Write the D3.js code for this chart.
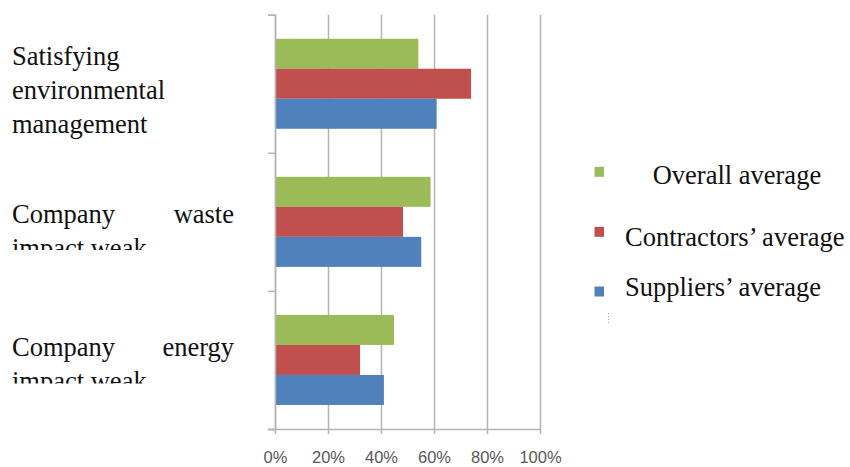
<!DOCTYPE html>
<html>
<head>
<meta charset="utf-8">
<script src="https://cdn.jsdelivr.net/npm/d3@7"></script>
<style>
  body { margin: 0; background: #fff; }
  svg { display: block; }
</style>
</head>
<body>
<div id="wrapper"></div>
<script>
// data
const categories = ["Satisfying environmental management", "Company waste impact weak", "Company energy impact weak"]
const labelLines = [
    [["Satisfying"], ["environmental"], ["management"]],
    [["Company", "waste"], ["impact weak"]],
    [["Company", "energy"], ["impact weak"]]
]
const seriesNames = ["Overall average", "Contractors\u2019 average", "Suppliers\u2019 average"]
const overall = [0.541, 0.587, 0.449]
const contractors = [0.740, 0.483, 0.321]
const suppliers = [0.610, 0.552, 0.411]
const xTicks = [0, 0.2, 0.4, 0.6, 0.8, 1]

const seriesValues = [overall, contractors, suppliers]
const colors = ["#9bbb59", "#c0504d", "#4f81bd"]

const dimensions = {
    width: 850,
    height: 467,
    plot: { left: 275, right: 540, top: 14.7, bottom: 429 }
}

const svg = d3.select('#wrapper')
    .append('svg')
    .attr('width', dimensions.width)
    .attr('height', dimensions.height)

const xScale = d3.scaleLinear()
    .domain([0, 1])
    .range([dimensions.plot.left, dimensions.plot.right])

const yScale = d3.scaleBand()
    .domain(categories)
    .range([dimensions.plot.top, dimensions.plot.bottom])
    .paddingInner(0.348)
    .paddingOuter(0.174)

const ySub = d3.scaleBand()
    .domain(seriesNames)
    .range([0, yScale.bandwidth()])

const gridColor = "#b4b4b4"

// vertical gridlines
const grid = svg.append('g')
    .attr('transform', `translate(0, ${dimensions.plot.bottom})`)
    .call(d3.axisBottom(xScale)
        .tickValues(xTicks)
        .tickSize(-(dimensions.plot.bottom - dimensions.plot.top))
        .tickFormat(""))
grid.select('.domain').remove()
grid.selectAll('line').attr('stroke', gridColor).attr('stroke-width', 1.5)

// bars
const table = categories.flatMap((c, i) => seriesNames.map((s, j) => ({ c, s, j, v: seriesValues[j][i] })))
svg.append('g')
    .selectAll('rect')
    .data(table)
    .join('rect')
    .attr('x', xScale(0))
    .attr('y', d => yScale(d.c) + ySub(d.s))
    .attr('width', d => xScale(d.v) - xScale(0))
    .attr('height', ySub.bandwidth())
    .attr('fill', d => colors[d.j])

// x axis
const xAxis = svg.append('g')
    .attr('transform', `translate(0, ${dimensions.plot.bottom})`)
    .call(d3.axisBottom(xScale)
        .tickValues(xTicks)
        .tickSize(5)
        .tickFormat(d3.format(".0%")))
xAxis.select('.domain').attr('stroke', gridColor).attr('stroke-width', 1.5)
    .attr('d', `M${dimensions.plot.left - 7},0.5H${dimensions.plot.right}`)
xAxis.selectAll('line').attr('stroke', gridColor).attr('stroke-width', 1.5)
xAxis.selectAll('text')
    .attr('y', 34)
    .attr('dy', null)
    .attr('fill', '#595959')
    .style('font-family', '"Liberation Sans", Arial, sans-serif')
    .style('font-size', '16.5px')

// y axis with ticks between categories
const yEdges = d3.scaleLinear().domain([0, categories.length])
    .range([dimensions.plot.top, dimensions.plot.bottom])
const yAxis = svg.append('g')
    .attr('transform', `translate(${dimensions.plot.left}, 0)`)
    .call(d3.axisLeft(yEdges).ticks(categories.length).tickSize(7).tickFormat(""))
yAxis.select('.domain').attr('stroke', gridColor).attr('stroke-width', 1.5)
yAxis.selectAll('line').attr('stroke', gridColor).attr('stroke-width', 1.5)

// category labels, justified like the source document
const labelFont = '"Liberation Serif", "Times New Roman", serif'
const labelLeft = 12, labelRight = 234, lineGap = 34
const firstBaselines = [65, 222.7, 356]
const clipBottoms = [null, 250, 383.5]

labelLines.forEach((lines, i) => {
    const g = svg.append('g')
    if (clipBottoms[i] !== null) {
        svg.append('clipPath').attr('id', `clip${i}`)
            .append('rect')
            .attr('x', 0).attr('y', firstBaselines[i] - 40)
            .attr('width', 260).attr('height', clipBottoms[i] - firstBaselines[i] + 40)
        g.attr('clip-path', `url(#clip${i})`)
    }
    lines.forEach((words, k) => {
        const y = firstBaselines[i] + k * lineGap
        words.forEach((w, n) => {
            const last = words.length > 1 && n === words.length - 1
            g.append('text')
                .attr('x', last ? labelRight : labelLeft)
                .attr('y', y)
                .attr('text-anchor', last ? 'end' : 'start')
                .style('font-family', labelFont)
                .style('font-size', '26.5px')
                .attr('fill', '#111')
                .text(w)
        })
    })
})

// legend
const legendSquareY = [166.8, 226.8, 286.5]
const legendTextX = [652.7, 625, 625]
const legendTextY = [184.3, 245.5, 295.7]
const legend = svg.append('g')
legend.selectAll('rect')
    .data(seriesNames)
    .join('rect')
    .attr('x', 594.5)
    .attr('y', (d, i) => legendSquareY[i])
    .attr('width', 9.5)
    .attr('height', 10)
    .attr('fill', (d, i) => colors[i])
legend.selectAll('text')
    .data(seriesNames)
    .join('text')
    .attr('x', (d, i) => legendTextX[i])
    .attr('y', (d, i) => legendTextY[i])
    .style('font-family', labelFont)
    .style('font-size', '26.5px')
    .attr('fill', '#111')
    .text(d => d)

// small dotted mark under the legend
legend.append('line')
    .attr('x1', 608.5).attr('x2', 608.5)
    .attr('y1', 313).attr('y2', 323)
    .attr('stroke', '#aaa')
    .attr('stroke-dasharray', '1,2')
</script>
</body>
</html>
